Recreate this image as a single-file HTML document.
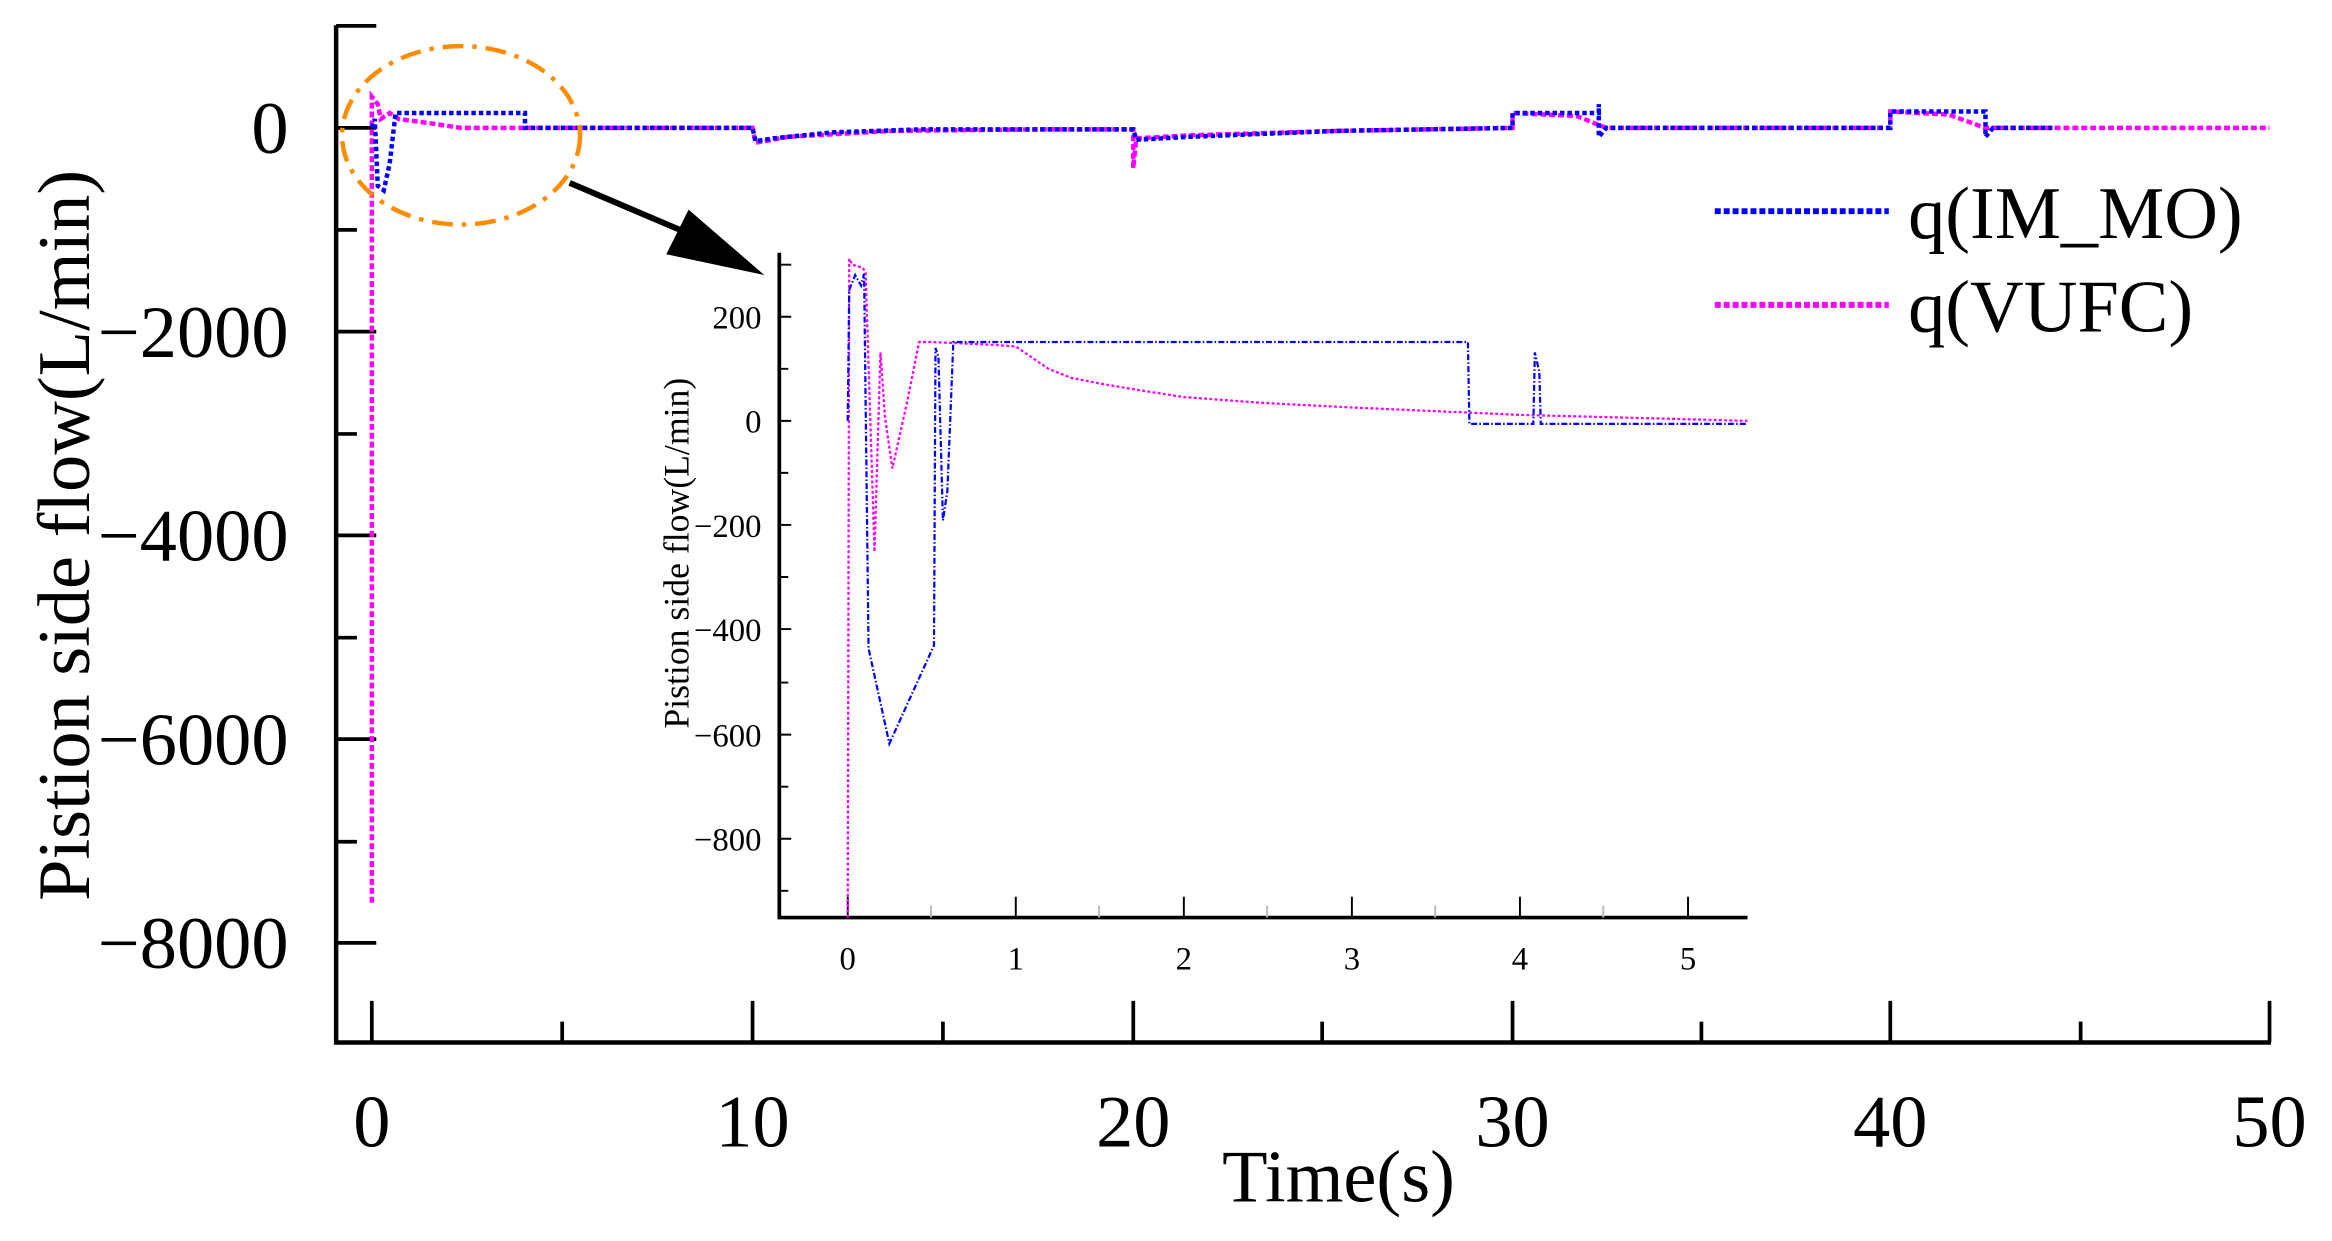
<!DOCTYPE html>
<html><head><meta charset="utf-8"><style>html,body{margin:0;padding:0;background:#fff}svg{display:block}</style></head>
<body>
<svg width="2332" height="1241" viewBox="0 0 1568 834.5" preserveAspectRatio="none" xmlns="http://www.w3.org/2000/svg" font-family="'Liberation Serif', serif">
<rect width="1568" height="834.5" fill="#fff"/>
<g stroke="#000" fill="none">
<path d="M226,17 V701 H1527" stroke-width="3"/>
<g stroke-width="2.5">
<path d="M226,17.4 h27 M226,86 h27 M226,223 h27 M226,360 h27 M226,497 h27 M226,634 h27"/>
<path d="M226,154.6 h14 M226,291.8 h14 M226,428.8 h14 M226,566 h14"/>
<path d="M250,701 v-28 M506,701 v-28 M762,701 v-28 M1017,701 v-28 M1271,701 v-28 M1526,701 v-28"/>
<path d="M378,701 v-14 M634,701 v-14 M889,701 v-14 M1144,701 v-14 M1399,701 v-14"/>
</g>
</g>
<g font-size="50" text-anchor="end" fill="#000">
<text x="194" y="103">0</text>
<text x="194" y="240">−2000</text>
<text x="194" y="377">−4000</text>
<text x="194" y="514">−6000</text>
<text x="194" y="651">−8000</text>
</g>
<g font-size="50" text-anchor="middle" fill="#000">
<text x="250" y="771">0</text>
<text x="506" y="771">10</text>
<text x="762" y="771">20</text>
<text x="1017" y="771">30</text>
<text x="1271" y="771">40</text>
<text x="1526" y="771">50</text>
<text x="900" y="808">Time(s)</text>
<text transform="translate(60,360) rotate(-90)">Pistion side flow(L/min)</text>
</g>
<path d="M250,607 L250,65 L254,70 L256,80 L262,76 L268,80 L290,83 L310,86 L506,86 L508,96 L530,92 L600,88 L700,87 L762,87 L762,113 L764,93 L800,91 L900,88 L1017,86 L1017,76 L1060,78 L1080,86 L1271,86 L1271,75 L1310,77 L1335,86 L1526,86" fill="none" stroke="#ff00ff" stroke-width="3" stroke-dasharray="4 2"/>
<path d="M250,86 L252,80 L254,125 L258,128 L262,110 L266,76 L353,76 L353,86 L506,86 L508,95 L520,93 L560,89 L620,87 L762,87 L764,94 L800,92 L900,88 L1017,86 L1017,76 L1075,76 L1075,70 L1075,92 L1080,86 L1271,86 L1271,75 L1335,75 L1335,80 L1335,92 L1340,86 L1380,86" fill="none" stroke="#0000ff" stroke-width="3" stroke-dasharray="3 2"/>
<ellipse cx="310" cy="91" rx="80" ry="60" fill="none" stroke="#ff8c00" stroke-width="3" stroke-dasharray="14 6 3 6"/>
<path d="M383,123 L470,160" stroke="#000" stroke-width="4"/>
<polygon points="463,141 448,171 514,185" fill="#000"/>
<path d="M1153,142 H1270" stroke="#0000ff" stroke-width="4" stroke-dasharray="4 2"/>
<path d="M1153,205 H1270" stroke="#ff00ff" stroke-width="4" stroke-dasharray="4 2"/>
<g font-size="50" fill="#000">
<text x="1283" y="160">q(IM_MO)</text>
<text x="1283" y="223">q(VUFC)</text>
</g>
<g stroke="#000" fill="none">
<path d="M524,170 V617 H1175" stroke-width="2.5"/>
<g stroke-width="1.3">
<path d="M524,178 h8 M524,213 h8 M524,248 h6 M524,283 h8 M524,318 h6 M524,353 h8 M524,388 h6 M524,423 h8 M524,459 h6 M524,494 h8 M524,529 h6 M524,564 h8 M524,599 h6"/>
<path d="M570,617 v-14 M683,617 v-14 M796,617 v-14 M909,617 v-14 M1022,617 v-14 M1135,617 v-14"/>
<path d="M626,617 v-8 M739,617 v-8 M852,617 v-8 M965,617 v-8 M1078,617 v-8" stroke="#bbb"/>
</g>
</g>
<g font-size="22" fill="#000" text-anchor="end">
<text x="512" y="221">200</text>
<text x="512" y="291">0</text>
<text x="512" y="361">−200</text>
<text x="512" y="431">−400</text>
<text x="512" y="502">−600</text>
<text x="512" y="572">−800</text>
</g>
<g font-size="22" fill="#000" text-anchor="middle">
<text x="570" y="652">0</text>
<text x="683" y="652">1</text>
<text x="796" y="652">2</text>
<text x="909" y="652">3</text>
<text x="1022" y="652">4</text>
<text x="1135" y="652">5</text>
<text transform="translate(463,372) rotate(-90)" font-size="24">Pistion side flow(L/min)</text>
</g>
<path d="M570,617 L571,174 L573,178 L580,180 L582,183 L588,371 L592,237 L595,280 L600,315 L610,270 L618,230 L627,230 L670,232 L683,233 L705,248 L720,254 L740,258 L770,263 L796,267 L850,271 L909,274 L1000,278 L1022,279 L1100,281 L1175,283" fill="none" stroke="#ff00ff" stroke-width="1.5" stroke-dasharray="2 1.5"/>
<path d="M570,283 L571,195 L575,185 L579,192 L581,184 L584,436 L598,500 L628,434 L629,234 L631,240 L634,350 L637,330 L641,230 L987,230 L988,285 L1031,285 L1032,237 L1035,250 L1036,285 L1175,285" fill="none" stroke="#0000ff" stroke-width="1.5" stroke-dasharray="4 1.5 1 1.5"/>
</svg>
</body></html>
